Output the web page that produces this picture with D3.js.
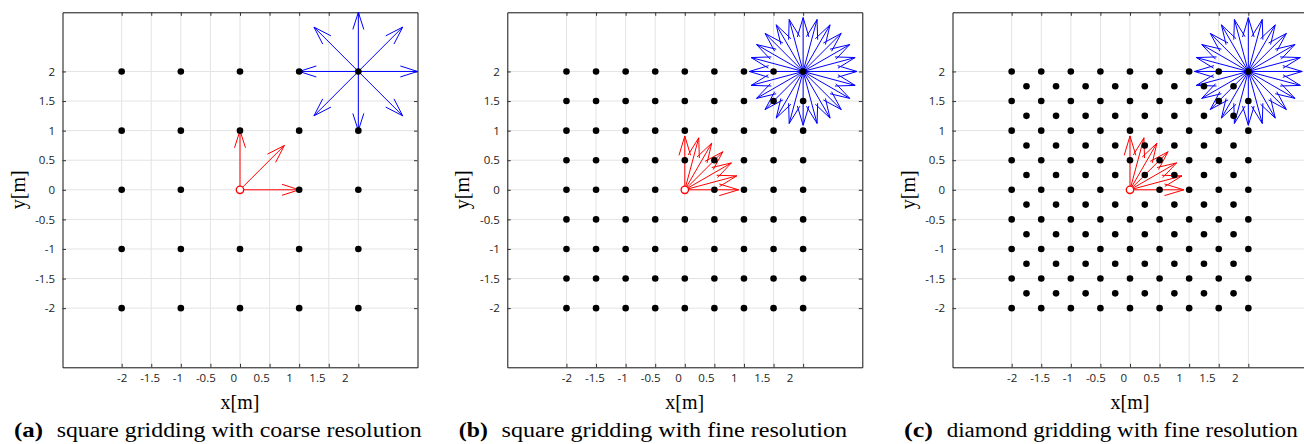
<!DOCTYPE html>
<html>
<head>
<meta charset="utf-8">
<script src="https://cdn.jsdelivr.net/npm/d3@7"></script>
<style>
  body { margin: 0; background: #fff; }
  .tick text { font-family: "Open Sans", sans-serif; font-size: 11.5px; fill: #222; }
</style>
</head>
<body>
<svg id="chart" width="1304" height="444"></svg>
<script>
// tick values shared by both axes
const tickValues = [-2, -1.5, -1, -0.5, 0, 0.5, 1, 1.5, 2];

// sampling positions
const coarseCoords  = [-2, -1, 0, 1, 2];
const fineCoords    = [-2, -1.5, -1, -0.5, 0, 0.5, 1, 1.5, 2];
const diamondCoords = [-1.75, -1.25, -0.75, -0.25, 0.25, 0.75, 1.25, 1.75];

// motion vectors (u, v) of panel (a)
const redCoarse  = [[1, 0], [0.75, 0.75], [0, 1]];
const blueCoarse = [[1, 0], [0.75, 0.75], [0, 1], [-0.75, 0.75],
                    [-1, 0], [-0.75, -0.75], [0, -1], [0.75, -0.75]];

// directions (deg) of panels (b) and (c)
const redFineAngles  = [0, 15, 30, 45, 60, 75, 90];
const blueFineAngles = [0, 15, 30, 45, 60, 75, 90, 105, 120, 135, 150, 165,
                        180, 195, 210, 225, 240, 255, 270, 285, 300, 315, 330, 345];
const fineLength = 0.91;

const captionTags  = ['(a)', '(b)', '(c)'];
const captionTexts = ['square gridding with coarse resolution',
                      'square gridding with fine resolution',
                      'diamond gridding with fine resolution'];

const svg = d3.select('#chart');
const size = 355;
const marginTop = 12.3;

const x = d3.scaleLinear().domain([-3, 3]).range([0, size]);
const y = d3.scaleLinear().domain([-3, 3]).range([size, 0]);
// tick labels sit slightly compressed to the left, as in the original figure
const xLabel = d3.scaleLinear().domain([-2, 2]).range([x(-2), x(2) - 13.5]);

const cross = (xs, ys) => xs.flatMap(a => ys.map(b => [a, b]));
const fromAngles = (angles, len) => angles.map(a => [len * Math.cos(a * Math.PI / 180), len * Math.sin(a * Math.PI / 180)]);

const panels = [
  { left: 62.5,  points: cross(coarseCoords, coarseCoords),
    red: redCoarse, blue: blueCoarse, head: [0.29, 0.32], capLen: 365 },
  { left: 507.3, points: cross(fineCoords, fineCoords),
    red: fromAngles(redFineAngles, fineLength), blue: fromAngles(blueFineAngles, fineLength),
    head: [0.36, 0.3], capLen: 345.7 },
  { left: 952.5, points: cross(fineCoords, fineCoords).concat(cross(diamondCoords, diamondCoords)),
    red: fromAngles(redFineAngles, fineLength), blue: fromAngles(blueFineAngles, fineLength),
    head: [0.36, 0.3], capLen: 351 }
];

function arrow(x0, y0, u, v, head) {
  const px0 = x(x0), py0 = y(y0);
  const px1 = x(x0 + u), py1 = y(y0 + v);
  const dx = px1 - px0, dy = py1 - py0;
  const [alpha, beta] = head;
  const bx = px1 - alpha * dx, by = py1 - alpha * dy;
  const ox = -alpha * beta * dy, oy = alpha * beta * dx;
  return `M${px0},${py0}L${px1},${py1}M${bx + ox},${by + oy}L${px1},${py1}L${bx - ox},${by - oy}`;
}

panels.forEach((p, i) => {
  const g = svg.append('g').attr('transform', `translate(${p.left}, ${marginTop})`);

  // grid
  g.append('g').selectAll('line')
    .data(tickValues).enter().append('line')
      .attr('x1', d => x(d)).attr('x2', d => x(d))
      .attr('y1', 0).attr('y2', size)
      .attr('stroke', '#e3e3e3');
  g.append('g').selectAll('line')
    .data(tickValues).enter().append('line')
      .attr('y1', d => y(d)).attr('y2', d => y(d))
      .attr('x1', 0).attr('x2', size)
      .attr('stroke', '#e3e3e3');

  // box with inward ticks on all sides
  const axes = [
    [d3.axisBottom(x), `translate(0, ${size})`],
    [d3.axisTop(x), 'translate(0, 0)'],
    [d3.axisLeft(y), 'translate(0, 0)'],
    [d3.axisRight(y), `translate(${size}, 0)`]
  ];
  axes.forEach(([ax, tr]) => {
    g.append('g')
      .attr('transform', tr)
      .call(ax.tickValues(tickValues).tickSize(-3.5).tickSizeOuter(0).tickFormat(''))
      .call(s => s.select('.domain').attr('stroke', '#111'))
      .call(s => s.selectAll('.tick line').attr('stroke', '#333'));
  });

  // tick labels (plain hyphen for minus)
  g.append('g')
    .attr('transform', `translate(0, ${size})`)
    .call(d3.axisBottom(xLabel).tickValues(tickValues).tickSize(0).tickPadding(6.5).tickFormat(d => String(d)))
    .call(s => s.select('.domain').remove());
  g.append('g')
    .call(d3.axisLeft(y).tickValues(tickValues).tickSize(0).tickPadding(7.5).tickFormat(d => String(d)))
    .call(s => s.select('.domain').remove());

  // axis titles
  g.append('text')
    .attr('x', size / 2).attr('y', 397)
    .attr('text-anchor', 'middle')
    .attr('font-family', '"Liberation Serif", serif').attr('font-size', 20)
    .text('x[m]');
  g.append('text')
    .attr('transform', `translate(-38, ${size / 2}) rotate(-90)`)
    .attr('text-anchor', 'middle')
    .attr('font-family', '"Liberation Serif", serif').attr('font-size', 20)
    .text('y[m]');

  // red vectors from origin, blue vectors from (2, 2)
  g.append('g').selectAll('path')
    .data(p.red).enter().append('path')
      .attr('d', d => arrow(0, 0, d[0], d[1], p.head))
      .attr('fill', 'none').attr('stroke', '#ff0000').attr('stroke-width', 1);
  g.append('g').selectAll('path')
    .data(p.blue).enter().append('path')
      .attr('d', d => arrow(2, 2, d[0], d[1], p.head))
      .attr('fill', 'none').attr('stroke', '#0000ff').attr('stroke-width', 1);

  // sample points
  g.append('g').selectAll('circle')
    .data(p.points).enter().append('circle')
      .attr('cx', d => x(d[0])).attr('cy', d => y(d[1]))
      .attr('r', 3.3).attr('fill', '#000');

  // origin marker
  g.append('circle')
    .attr('cx', x(0)).attr('cy', y(0)).attr('r', 3.7)
    .attr('fill', '#fff').attr('stroke', '#ff0000').attr('stroke-width', 1.3);

  // caption
  const cap = svg.append('text')
    .attr('y', 437)
    .attr('font-family', '"Liberation Serif", serif').attr('font-size', 20);
  cap.append('tspan')
    .attr('x', p.left - 48.5)
    .attr('font-weight', 'bold').attr('font-size', 22)
    .attr('textLength', 29).attr('lengthAdjust', 'spacingAndGlyphs')
    .text(captionTags[i]);
  cap.append('tspan')
    .attr('x', p.left - 5.8)
    .attr('textLength', p.capLen).attr('lengthAdjust', 'spacingAndGlyphs')
    .text(captionTexts[i]);
});
</script>
</body>
</html>
